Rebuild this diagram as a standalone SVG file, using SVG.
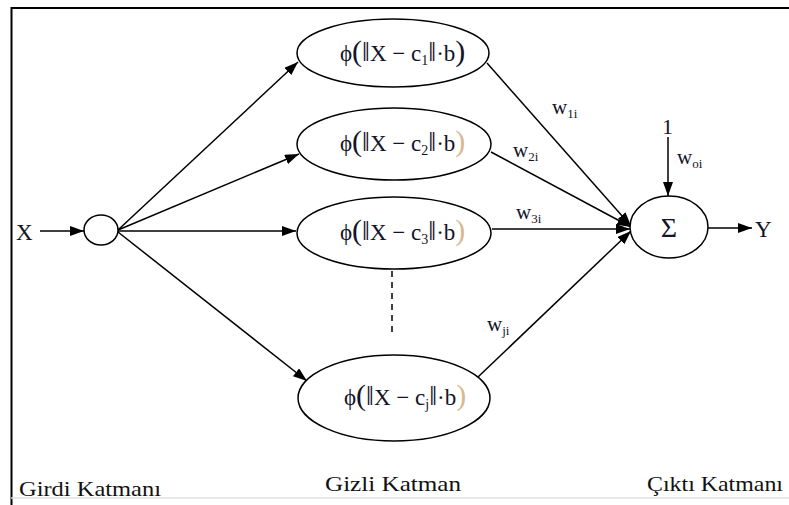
<svg xmlns="http://www.w3.org/2000/svg" width="789" height="505" viewBox="0 0 789 505">
<defs>
<marker id="ah" viewBox="0 0 14 10" refX="14" refY="5" markerWidth="14" markerHeight="10" markerUnits="userSpaceOnUse" orient="auto">
<path d="M0,0 L14,5 L0,10 Z" fill="#000"/>
</marker>
</defs>
<style>
.n{fill:#fff;stroke:#000;stroke-width:1.5}
.c{stroke:#000;stroke-width:1.5;fill:none}
text{font-family:"Liberation Serif","Times New Roman",serif;fill:#141428}
.f{font-size:23px}
.p{font-size:30px}
.v{font-size:28px}
.w{font-size:21px}
.s{font-size:13px}
.ss{font-size:14px}
.lab{font-size:22px;fill:#111}
.faint{fill:#d8b890}
</style>
<rect width="789" height="505" fill="#fff"/>
<path d="M800 8 H11.5 V505" fill="none" stroke="#000" stroke-width="2"/>
<line x1="11" y1="498" x2="789" y2="498" stroke="#e0e0e0" stroke-width="1.5"/>
<g id="connectors">
<line class="c" x1="40" y1="231" x2="84" y2="231" marker-end="url(#ah)"/>
<line class="c" x1="118" y1="230" x2="298" y2="62" marker-end="url(#ah)"/>
<line class="c" x1="118" y1="230" x2="299" y2="154" marker-end="url(#ah)"/>
<line class="c" x1="118" y1="231" x2="296" y2="231" marker-end="url(#ah)"/>
<line class="c" x1="118" y1="232" x2="307" y2="381" marker-end="url(#ah)"/>
<line class="c" x1="487" y1="63" x2="631" y2="226" marker-end="url(#ah)"/>
<line class="c" x1="491" y1="152" x2="631" y2="227" marker-end="url(#ah)"/>
<line class="c" x1="492" y1="229" x2="630" y2="229" marker-end="url(#ah)"/>
<line class="c" x1="478" y1="377" x2="631" y2="231" marker-end="url(#ah)"/>
<line class="c" x1="668" y1="137" x2="668" y2="196" marker-end="url(#ah)"/>
<line class="c" x1="708" y1="228" x2="752" y2="228" marker-end="url(#ah)"/>
<line x1="392" y1="271" x2="392" y2="334" stroke="#000" stroke-width="1.5" stroke-dasharray="6,5"/>
</g>
<g id="input">
<text x="16" y="240" style="font-size:23px">X</text>
<ellipse class="n" cx="101" cy="230" rx="17" ry="15"/>
</g>
<g id="h1">
<ellipse class="n" cx="393" cy="53" rx="96" ry="34"/>
<text class="f" x="340" y="61">ϕ<tspan class="p">(</tspan><tspan class="v">‖</tspan>X − c<tspan class="ss" dy="4">1</tspan><tspan class="v" dy="-4">‖</tspan>·b<tspan class="p">)</tspan></text>
</g>
<g id="h2">
<ellipse class="n" cx="394" cy="144" rx="97" ry="36"/>
<text class="f" x="340" y="151">ϕ<tspan class="p">(</tspan><tspan class="v">‖</tspan>X − c<tspan class="ss" dy="4">2</tspan><tspan class="v" dy="-4">‖</tspan>·b<tspan class="p faint">)</tspan></text>
</g>
<g id="h3">
<ellipse class="n" cx="394" cy="233" rx="97" ry="36"/>
<text class="f" x="340" y="240">ϕ<tspan class="p">(</tspan><tspan class="v">‖</tspan>X − c<tspan class="ss" dy="4">3</tspan><tspan class="v" dy="-4">‖</tspan>·b<tspan class="p faint">)</tspan></text>
</g>
<g id="hj">
<ellipse class="n" cx="394" cy="398" rx="96" ry="43"/>
<text class="f" x="344" y="405">ϕ<tspan class="p">(</tspan><tspan class="v">‖</tspan>X − c<tspan class="ss" dy="4">j</tspan><tspan class="v" dy="-4">‖</tspan>·b<tspan class="p faint">)</tspan></text>
</g>
<g id="sum">
<ellipse class="n" cx="669" cy="227" rx="39" ry="31"/>
<text x="669" y="237" style="font-size:28px" text-anchor="middle">Σ</text>
</g>
<g id="labels">
<text class="w" x="552" y="114">w<tspan class="s" dy="4">1i</tspan></text>
<text class="w" x="513" y="157">w<tspan class="s" dy="4">2i</tspan></text>
<text class="w" x="516" y="219">w<tspan class="s" dy="4">3i</tspan></text>
<text class="w" x="487" y="331">w<tspan class="s" dy="4">ji</tspan></text>
<text class="w" x="677" y="164">w<tspan class="s" dy="4">oi</tspan></text>
<text x="662" y="134" style="font-size:22px">1</text>
<text x="755" y="237" style="font-size:23px">Y</text>
<text class="lab" x="19" y="496" textLength="142" lengthAdjust="spacingAndGlyphs">Girdi Katmanı</text>
<text class="lab" x="325" y="491" textLength="136" lengthAdjust="spacingAndGlyphs">Gizli Katman</text>
<text class="lab" x="647" y="491" textLength="136" lengthAdjust="spacingAndGlyphs">Çıktı Katmanı</text>
</g>
</svg>
